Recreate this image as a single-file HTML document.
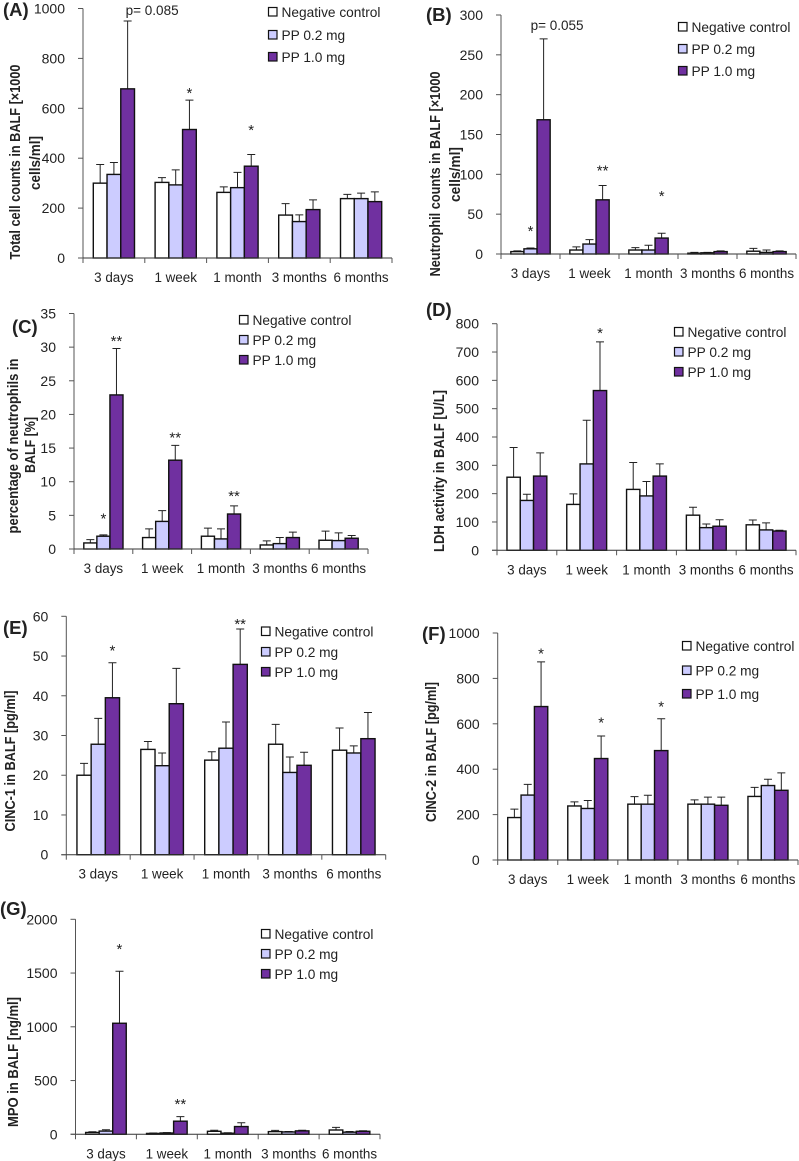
<!DOCTYPE html>
<html lang="en">
<head>
<meta charset="utf-8">
<title>BALF bar charts</title>
<style>
html,body{margin:0;padding:0;background:#fff;}
svg{display:block;}
text{font-family:"Liberation Sans",sans-serif;fill:#222;}
</style>
</head>
<body>
<svg id="figure" xmlns="http://www.w3.org/2000/svg" width="799" height="1161" viewBox="0 0 799 1161"></svg>
<script>
/* ---------- shared data ---------- */
var categories = ['3 days', '1 week', '1 month', '3 months', '6 months'];
var seriesNames = ['Negative control', 'PP 0.2 mg', 'PP 1.0 mg'];

/* ---------- panel A ---------- */
var ticksA = [0, 200, 400, 600, 800, 1000];
var negA = [300, 303, 263, 172, 238];
var lowA = [335, 293, 282, 146, 238];
var highA = [678, 515, 368, 194, 226];
var negTopA = [375, 322, 285, 218, 255];
var lowTopA = [383, 353, 343, 173, 260];
var highTopA = [950, 633, 415, 233, 265];

/* ---------- panel B ---------- */
var ticksB = [0, 50, 100, 150, 200, 250, 300];
var negB = [3, 5, 5, 1, 3.5];
var lowB = [6.5, 12.5, 5, 1.5, 2];
var highB = [168.5, 68, 20, 3, 3];
var negTopB = [4, 9, 8, 2, 7];
var lowTopB = [7.5, 18, 11, 2, 5];
var highTopB = [270, 86, 26, 4, 4];

/* ---------- panel C ---------- */
var ticksC = [0, 5, 10, 15, 20, 25, 30, 35];
var negC = [0.9, 1.7, 1.9, 0.6, 1.3];
var lowC = [1.9, 4.1, 1.5, 0.8, 1.25];
var highC = [22.9, 13.2, 5.2, 1.7, 1.6];
var negTopC = [1.4, 3.0, 3.1, 1.2, 2.65];
var lowTopC = [2.1, 5.7, 3.0, 1.7, 2.4];
var highTopC = [29.8, 15.4, 6.4, 2.5, 2.0];

/* ---------- panel D ---------- */
var ticksD = [0, 100, 200, 300, 400, 500, 600, 700, 800];
var negD = [258, 162, 215, 124, 90];
var lowD = [176, 305, 192, 80, 72];
var highD = [262, 564, 262, 85, 68];
var negTopD = [363, 199, 310, 152, 107];
var lowTopD = [198, 459, 243, 93, 97];
var highTopD = [344, 736, 305, 108, 71];

/* ---------- panel E ---------- */
var ticksE = [0, 10, 20, 30, 40, 50, 60];
var negE = [20, 26.5, 23.8, 27.8, 26.3];
var lowE = [27.8, 22.4, 26.8, 20.7, 25.6];
var highE = [39.5, 38, 47.9, 22.5, 29.2];
var negTopE = [23, 28.5, 25.9, 32.8, 31.9];
var lowTopE = [34.3, 25.6, 33.4, 24.6, 27.4];
var highTopE = [48.3, 46.9, 56.8, 25.8, 35.8];

/* ---------- panel F ---------- */
var ticksF = [0, 200, 400, 600, 800, 1000];
var negF = [187, 238, 246, 246, 280];
var lowF = [286, 227, 246, 246, 328];
var highF = [676, 447, 482, 241, 307];
var negTopF = [224, 256, 279, 265, 320];
var lowTopF = [333, 262, 285, 277, 356];
var highTopF = [873, 546, 622, 277, 384];

/* ---------- panel G ---------- */
var ticksG = [0, 500, 1000, 1500, 2000];
var negG = [17, 8, 28, 25, 40];
var lowG = [30, 12, 10, 22, 20];
var highG = [1033, 122, 72, 32, 28];
var negTopG = [24, 12, 38, 36, 65];
var lowTopG = [42, 16, 14, 26, 26];
var highTopG = [1517, 165, 108, 38, 33];

/* ---------- significance notes: group, series, text ---------- */
var notesA = [[0, 2, 'p= 0.085'], [1, 2, '*'], [2, 2, '*']];
var notesB = [[0, 2, 'p= 0.055'], [0, 1, '*'], [1, 2, '**'], [2, 2, '*']];
var notesC = [[0, 2, '**'], [0, 1, '*'], [1, 2, '**'], [2, 2, '**']];
var notesD = [[1, 2, '*']];
var notesE = [[0, 2, '*'], [2, 2, '**']];
var notesF = [[0, 2, '*'], [1, 2, '*'], [2, 2, '*']];
var notesG = [[0, 2, '*'], [1, 2, '**']];
/* height of each note on its panel's value axis, same order as the notes */
var noteLevelsA = [992, 668, 520];
var noteLevelsB = [287, 31, 107, 75];
var noteLevelsC = [31.1, 4.75, 16.8, 8.1];
var noteLevelsD = [773];
var noteLevelsE = [51.8, 58.4];
var noteLevelsF = [916, 612, 683];
var noteLevelsG = [1740, 298];

var NS = 'http://www.w3.org/2000/svg';
var fills = ['#ffffff', '#ccccff', '#7030a0'];
var seriesKeys = ['negative-control', 'pp-0-2-mg', 'pp-1-0-mg'];
var root = document.getElementById('figure');

function make(tag, parent, attrs, txt) {
  var el = document.createElementNS(NS, tag);
  for (var k in attrs) { el.setAttribute(k, attrs[k]); }
  if (txt !== undefined) { el.textContent = txt; }
  parent.appendChild(el);
  return el;
}

function drawPanel(p) {
  var key = p.id.toLowerCase();
  var g = make('g', root, {});
  
  

  var maxV = p.ticks[p.ticks.length - 1];
  function yScale(v) { return p.bottom - (v / maxV) * (p.bottom - p.top); }
  var catW = (p.right - p.x0) / categories.length;
  var barW = catW / 4.5;
  function barX(c, s) { return p.x0 + catW * (c + 0.5) + barW * (s - 1.5); }

  /* panel letter */
  var letter = make('text', g, {x: p.letterX, y: p.letterY, 'font-size': 18.5, 'font-weight': 'bold', fill: '#111'}, '(' + p.id + ')');
  
  

  /* y axis title */
  p.titles.forEach(function (t, i) {
    var title = make('text', g, {
      x: 0, y: 0, 'font-size': 14.5, 'font-weight': 'bold', fill: '#111', 'text-anchor': 'middle',
      transform: 'translate(' + t.x + ',' + t.cy + ') rotate(-90)',
      textLength: t.len, lengthAdjust: 'spacingAndGlyphs'
    }, t.text);
    
    
  });

  /* bars and error bars */
  p.series.forEach(function (vals, s) {
    var sg = make('g', g, {});
    
    
    vals.forEach(function (v, c) {
      var bx = barX(c, s);
      var cx = bx + barW / 2;
      var yTop = yScale(p.tops[s][c]);
      var yV = yScale(v);
      var err = make('path', sg, {d: 'M' + cx + ' ' + yV + 'V' + yTop + 'M' + (cx - 4) + ' ' + yTop + 'H' + (cx + 4), stroke: '#222', 'stroke-width': 1, fill: 'none'});
      
      
      var bar = make('rect', sg, {x: bx, y: yV, width: barW, height: p.bottom - yV, fill: fills[s], stroke: '#111', 'stroke-width': 1.4});
      
      
    });
  });

  /* axes */
  var yAxis = make('line', g, {x1: p.x0, x2: p.x0, y1: p.top, y2: p.bottom, stroke: '#555', 'stroke-width': 1});
  
  
  var xAxis = make('line', g, {x1: p.x0 - 5, x2: p.right, y1: p.bottom, y2: p.bottom, stroke: '#333', 'stroke-width': 1});
  
  

  p.ticks.forEach(function (t) {
    var y = yScale(t);
    var tick = make('line', g, {x1: p.x0 - 5, x2: p.x0, y1: y, y2: y, stroke: '#555', 'stroke-width': 1});
    
    
    var lab = make('text', g, {x: p.x0 - 18, y: y + 5, 'font-size': 14, 'text-anchor': 'end'}, String(t));
    
    
  });

  for (var i = 0; i <= categories.length; i++) {
    var tx = p.x0 + catW * i;
    var xt = make('line', g, {x1: tx, x2: tx, y1: p.bottom, y2: p.bottom + 5, stroke: '#555', 'stroke-width': 1});
    
    
  }
  categories.forEach(function (name, c) {
    var cl = make('text', g, {x: p.x0 + catW * (c + 0.5), y: p.bottom + 24, 'font-size': 13.4, 'text-anchor': 'middle'}, name);
    
    
  });

  /* notes */
  p.notes.forEach(function (n, i) {
    var isStar = n[2].charAt(0) === '*';
    var nx = barX(n[0], n[1]) + barW / 2 + (isStar ? 0 : p.pDx);
    var ny = yScale(p.levels[i]) + (isStar ? 6.5 : 4.5);
    var note = make('text', g, {x: nx, y: ny, 'font-size': isStar ? 15 : 13.5, 'text-anchor': 'middle'}, n[2]);
    
    
  });

  /* legend */
  var lg = make('g', g, {});
  
  
  seriesNames.forEach(function (name, s) {
    var ly = p.legendY[s];
    var entry = make('g', lg, {});
    
    
    var sw = make('rect', entry, {x: p.legendX, y: ly - 4.5, width: 8.5, height: 8.5, fill: fills[s], stroke: '#111', 'stroke-width': 1.2});
    
    
    var lt = make('text', entry, {x: p.legendX + 13, y: ly + 5, 'font-size': 13.7}, name);
    
    
  });
}

drawPanel({id: 'A', x0: 83, right: 392, top: 8.5, bottom: 258, letterX: 3, letterY: 16,
  ticks: ticksA, series: [negA, lowA, highA], tops: [negTopA, lowTopA, highTopA], notes: notesA, levels: noteLevelsA, pDx: 24.5,
  titles: [{text: 'Total cell counts in BALF [×1000', x: 20, cy: 162, len: 195}, {text: 'cells/ml]', x: 40, cy: 163, len: 54}],
  legendX: 268.5, legendY: [12, 35, 57]});
drawPanel({id: 'B', x0: 501, right: 796, top: 15, bottom: 254, letterX: 426, letterY: 21,
  ticks: ticksB, series: [negB, lowB, highB], tops: [negTopB, lowTopB, highTopB], notes: notesB, levels: noteLevelsB, pDx: 13.5,
  titles: [{text: 'Neutrophil counts in BALF [×1000', x: 440, cy: 174, len: 205}, {text: 'cells/ml]', x: 460, cy: 174.5, len: 55}],
  legendX: 678.5, legendY: [27, 49, 71]});
drawPanel({id: 'C', x0: 74, right: 368, top: 313.5, bottom: 549, letterX: 12, letterY: 333,
  ticks: ticksC, series: [negC, lowC, highC], tops: [negTopC, lowTopC, highTopC], notes: notesC, levels: noteLevelsC, pDx: 0,
  titles: [{text: 'percentage of neutrophils in', x: 18, cy: 446, len: 175}, {text: 'BALF [%]', x: 35, cy: 445, len: 56}],
  legendX: 239.5, legendY: [320, 340, 360]});
drawPanel({id: 'D', x0: 497, right: 796, top: 323.7, bottom: 550.3, letterX: 426, letterY: 316,
  ticks: ticksD, series: [negD, lowD, highD], tops: [negTopD, lowTopD, highTopD], notes: notesD, levels: noteLevelsD, pDx: 0,
  titles: [{text: 'LDH activity in BALF  [U/L]', x: 444, cy: 471, len: 162}],
  legendX: 674.5, legendY: [332, 352, 372]});
drawPanel({id: 'E', x0: 66.3, right: 385.7, top: 616.3, bottom: 854.7, letterX: 3, letterY: 634,
  ticks: ticksE, series: [negE, lowE, highE], tops: [negTopE, lowTopE, highTopE], notes: notesE, levels: noteLevelsE, pDx: 0,
  titles: [{text: 'CINC-1 in BALF [pg/ml]', x: 15, cy: 761, len: 141}],
  legendX: 261.5, legendY: [631.5, 652, 672]});
drawPanel({id: 'F', x0: 497.7, right: 798, top: 633, bottom: 860, letterX: 422, letterY: 640,
  ticks: ticksF, series: [negF, lowF, highF], tops: [negTopF, lowTopF, highTopF], notes: notesF, levels: noteLevelsF, pDx: 0,
  titles: [{text: 'CINC-2 in BALF [pg/ml]', x: 436, cy: 752, len: 140}],
  legendX: 682.5, legendY: [646, 670.5, 694]});
drawPanel({id: 'G', x0: 75.5, right: 380, top: 919.3, bottom: 1134.3, letterX: 0, letterY: 915,
  ticks: ticksG, series: [negG, lowG, highG], tops: [negTopG, lowTopG, highTopG], notes: notesG, levels: noteLevelsG, pDx: 0,
  titles: [{text: 'MPO in BALF [ng/ml]', x: 18, cy: 1062, len: 130}],
  legendX: 261.5, legendY: [934, 954, 974]});
</script>
</body>
</html>
